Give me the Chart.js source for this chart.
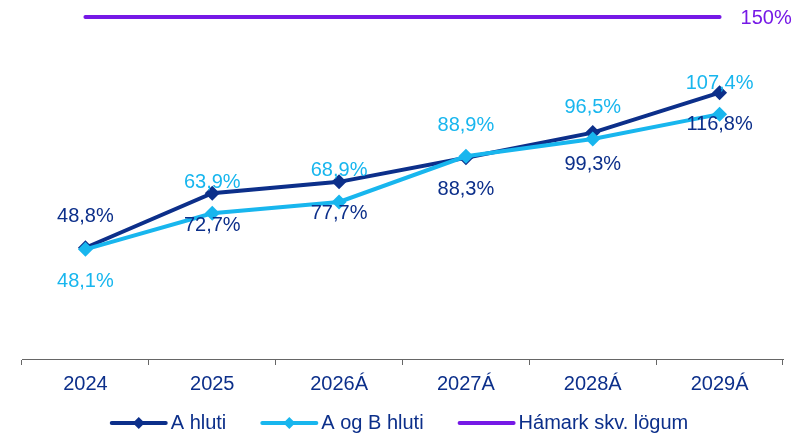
<!DOCTYPE html>
<html>
<head>
<meta charset="utf-8">
<script src="https://cdn.jsdelivr.net/npm/chart.js@4.4.1/dist/chart.umd.min.js"></script>
<style>
  html, body { margin: 0; padding: 0; background: #fff; }
  #wrap { width: 800px; height: 437px; }
</style>
</head>
<body>
<div id="wrap"><canvas id="chart"></canvas></div>
<script>
// data
var years = ['2024', '2025', '2026Á', '2027Á', '2028Á', '2029Á'];
var aHluti = [48.8, 72.7, 77.7, 88.3, 99.3, 116.8];
var aogbHluti = [48.1, 63.9, 68.9, 88.9, 96.5, 107.4];
var hamark = [150, 150, 150, 150, 150, 150];

var DARK = '#0c2f8a';
var CYAN = '#18b6ee';
var PURPLE = '#7619e6';
var FONT = '"Liberation Sans", Arial, sans-serif';

function fmt(v) {
  return v.toFixed(1).replace('.', ',') + '%';
}

// value labels above / below the points
var valueLabels = {
  id: 'valueLabels',
  afterDatasetsDraw: function(chart) {
    var ctx = chart.ctx;
    ctx.save();
    ctx.font = '20px ' + FONT;
    ctx.textAlign = 'center';
    ctx.textBaseline = 'middle';
    chart.data.datasets.forEach(function(ds, di) {
      var meta = chart.getDatasetMeta(di);
      if (ds.sides) {
        ctx.fillStyle = ds.labelColor;
        meta.data.forEach(function(pt, i) {
          var dy = ds.sides[i] == 'up' ? -31 : 32;
          ctx.fillText(fmt(ds.data[i]), pt.x, pt.y + dy);
        });
      }
      if (ds.endLabel) {
        var last = meta.data[meta.data.length - 1];
        ctx.fillStyle = ds.borderColor;
        ctx.textAlign = 'left';
        ctx.fillText(ds.data[ds.data.length - 1] + '%', last.x + 21, last.y + 1);
        ctx.textAlign = 'center';
      }
    });
    ctx.restore();
  }
};

// legend: line + diamond, like the original
var lineLegend = {
  id: 'lineLegend',
  afterDraw: function(chart) {
    var ctx = chart.ctx;
    var lineLen = 54, gapText = 5, gapItem = 36, y = 423;
    ctx.save();
    ctx.font = '20px ' + FONT;
    var total = 0;
    var items = chart.data.datasets.map(function(ds) {
      var w = ctx.measureText(ds.label).width;
      total += lineLen + gapText + w;
      return {ds: ds, w: w};
    });
    total += gapItem * (items.length - 1);
    var x = (chart.width - total) / 2;
    items.forEach(function(it) {
      ctx.strokeStyle = it.ds.borderColor;
      ctx.lineWidth = 4;
      ctx.lineCap = 'round';
      ctx.beginPath();
      ctx.moveTo(x, y);
      ctx.lineTo(x + lineLen, y);
      ctx.stroke();
      if (it.ds.pointRadius > 0) {
        var cx = x + lineLen / 2, r = 6;
        ctx.fillStyle = it.ds.borderColor;
        ctx.beginPath();
        ctx.moveTo(cx, y - r);
        ctx.lineTo(cx + r, y);
        ctx.lineTo(cx, y + r);
        ctx.lineTo(cx - r, y);
        ctx.closePath();
        ctx.fill();
      }
      ctx.fillStyle = DARK;
      ctx.textBaseline = 'middle';
      ctx.textAlign = 'left';
      ctx.fillText(it.ds.label, x + lineLen + gapText, y);
      x += lineLen + gapText + it.w + gapItem;
    });
    ctx.restore();
  }
};

new Chart(document.getElementById('chart'), {
  type: 'line',
  data: {
    labels: years,
    datasets: [
      {
        label: 'A hluti',
        data: aHluti,
        borderColor: DARK,
        backgroundColor: DARK,
        borderWidth: 4,
        pointStyle: 'rectRot',
        pointRadius: 7.5,
        pointBorderWidth: 0,
        labelColor: DARK,
        sides: ['up', 'down', 'down', 'down', 'down', 'down'],
        order: 2
      },
      {
        label: 'A og B hluti',
        data: aogbHluti,
        borderColor: CYAN,
        backgroundColor: CYAN,
        borderWidth: 4,
        pointStyle: 'rectRot',
        pointRadius: 7.5,
        pointBorderWidth: 0,
        labelColor: CYAN,
        sides: ['down', 'up', 'up', 'up', 'up', 'up'],
        order: 1
      },
      {
        label: 'Hámark skv. lögum',
        data: hamark,
        borderColor: PURPLE,
        borderWidth: 4,
        borderCapStyle: 'round',
        pointRadius: 0,
        clip: false,
        endLabel: true,
        order: 3
      }
    ]
  },
  options: {
    responsive: true,
    maintainAspectRatio: false,
    animation: false,
    layout: { padding: { top: 17, left: 22, right: 17, bottom: 34 } },
    plugins: {
      legend: { display: false },
      tooltip: { enabled: false }
    },
    scales: {
      x: {
        offset: true,
        grid: {
          offset: true,
          drawOnChartArea: false,
          tickLength: 6,
          color: '#666'
        },
        border: { display: true, color: '#666', width: 1 },
        ticks: {
          padding: 7,
          color: DARK,
          font: { family: FONT, size: 20 }
        }
      },
      y: {
        display: false,
        min: 0,
        max: 150
      }
    }
  },
  plugins: [valueLabels, lineLegend]
});
</script>
</body>
</html>
